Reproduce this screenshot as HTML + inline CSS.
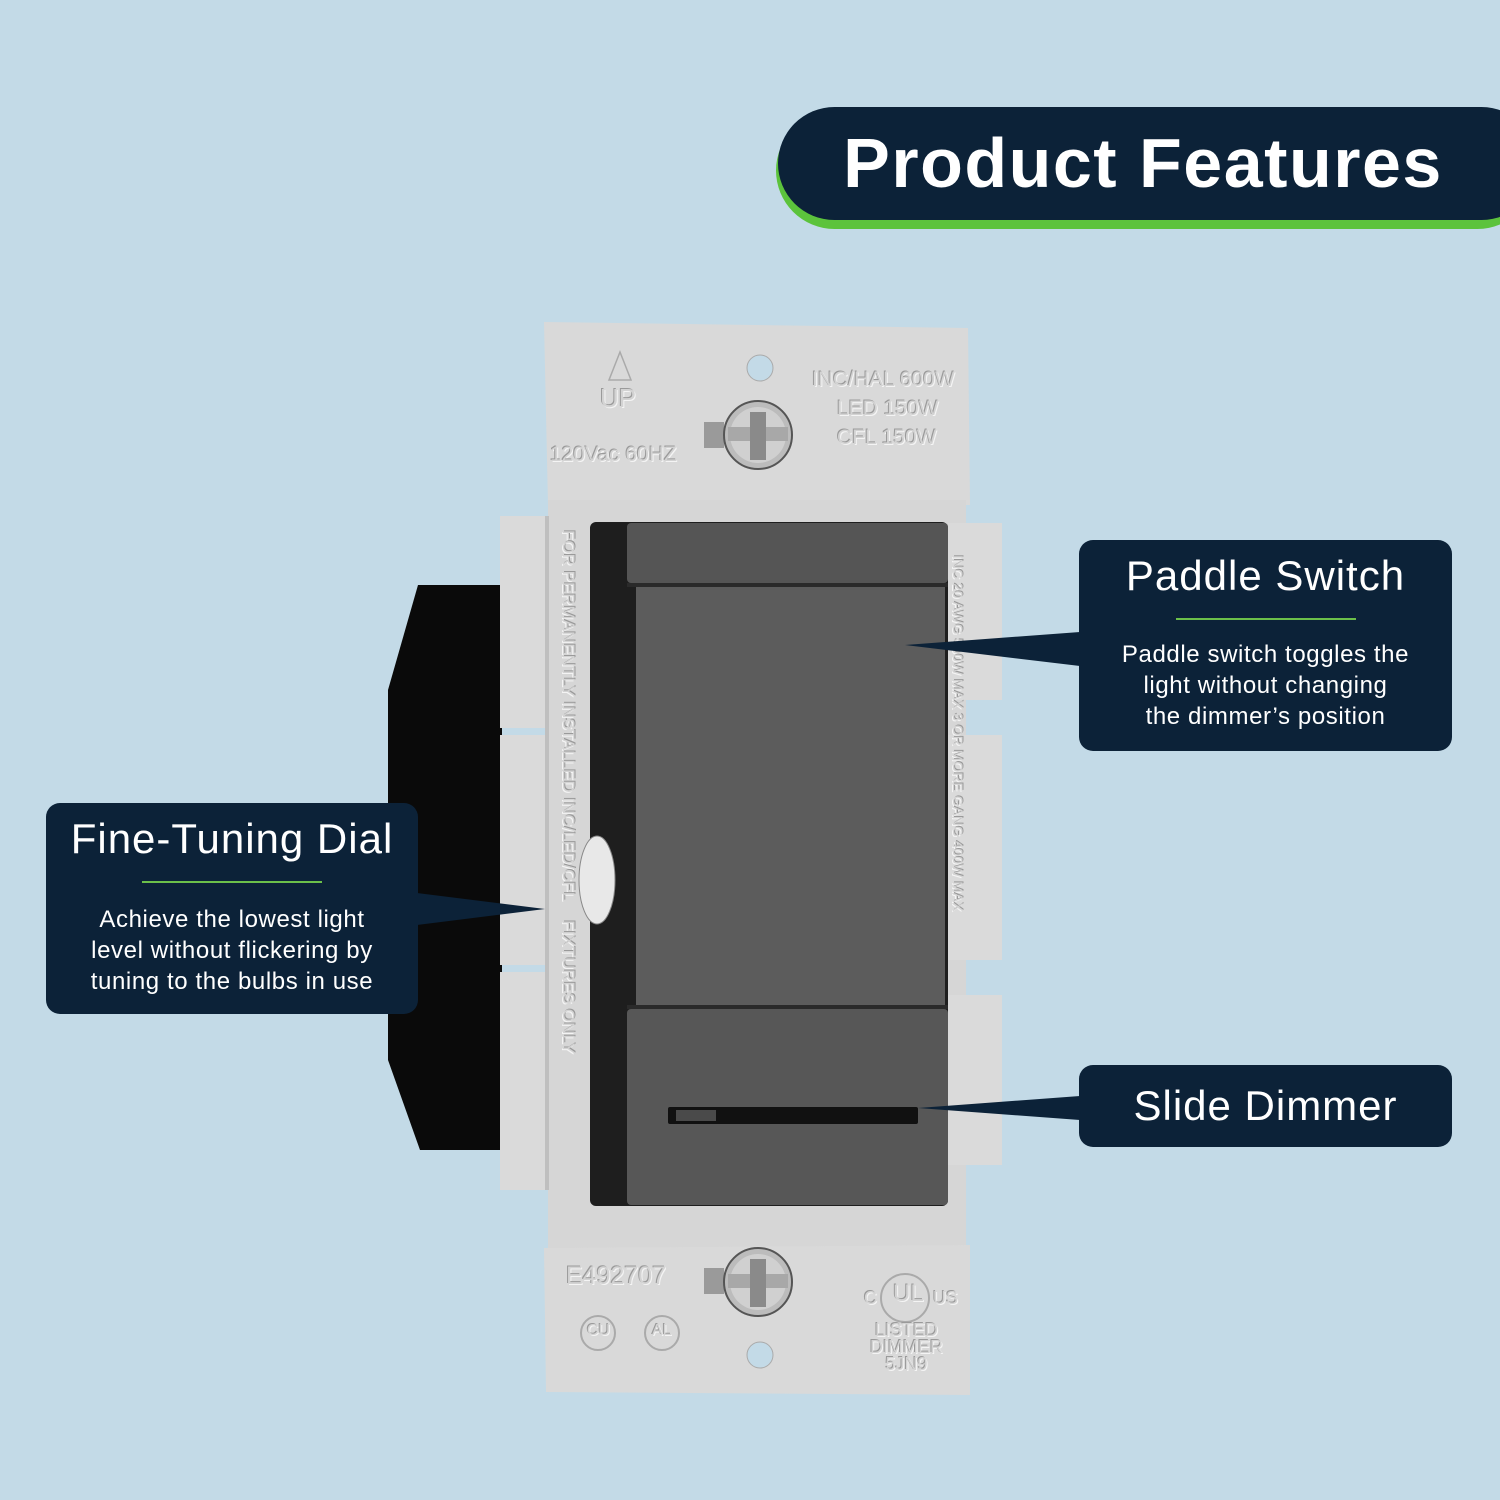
<!DOCTYPE html>
<html><head><meta charset="utf-8"><style>
*{margin:0;padding:0;box-sizing:border-box}
body{width:1500px;height:1500px;background:#c3dae7;position:relative;overflow:hidden;font-family:"Liberation Sans",sans-serif}
.abs{position:absolute}
.emb{position:absolute;color:#d3d3d3;text-shadow:-1px -1px 0 #9a9a9a,1px 1px 0 #f4f4f4;font-family:"Liberation Sans",sans-serif;white-space:nowrap}
.box{position:absolute;background:#0c2238;border-radius:14px;color:#fff;text-align:center}
.box h2{font-weight:normal;font-size:42px;letter-spacing:1px}
.box .ln{height:2px;background:#6cc04a;margin:0 auto}
.box p{font-size:24px;line-height:31px;letter-spacing:0.6px}
</style></head><body>
<div class="abs" style="left:776px;top:112px;width:760px;height:117px;background:#5cc33c;border-radius:60px"></div>
<div class="abs" style="left:778px;top:107px;width:760px;height:113px;background:#0c2238;border-radius:58px"></div>
<div class="abs" style="left:776px;top:122px;width:724px;text-align:center;color:#fff;font-weight:bold;font-size:70px;letter-spacing:1.5px;line-height:82px;padding-left:10px">Product Features</div>

<svg class="abs" style="left:0;top:0" width="1500" height="1500">
<polygon points="418,585 502,585 502,1150 420,1150 388,1060 388,690" fill="#0a0a0a"/>
<polygon points="544,322 968,328 970,505 548,505" fill="#d9d9d9"/>
<rect x="548" y="500" width="418" height="750" fill="#d6d6d6"/>
<polygon points="544,1248 970,1245 970,1395 546,1392" fill="#d9d9d9"/>
<rect x="500" y="516" width="48" height="212" fill="#dadada"/>
<rect x="500" y="735" width="48" height="230" fill="#dadada"/>
<rect x="500" y="972" width="48" height="218" fill="#dadada"/>
<rect x="545" y="516" width="4" height="674" fill="#bfbfbf"/>
<rect x="948" y="523" width="54" height="177" fill="#dadada"/>
<rect x="948" y="735" width="54" height="225" fill="#dadada"/>
<rect x="948" y="995" width="54" height="170" fill="#dadada"/>
<circle cx="760" cy="368" r="13" fill="#c3dae7" stroke="#aaa"/>
<circle cx="760" cy="1355" r="13" fill="#c3dae7" stroke="#aaa"/>
<g>
<rect x="704" y="422" width="20" height="26" fill="#9a9a9a"/>
<circle cx="758" cy="435" r="34" fill="#bcbcbc" stroke="#555" stroke-width="2"/>
<circle cx="758" cy="435" r="28" fill="#d0d0d0"/>
<rect x="728" y="427" width="60" height="14" fill="#a8a8a8"/>
<rect x="750" y="412" width="16" height="48" fill="#8a8a8a"/>
</g>
<g>
<rect x="704" y="1268" width="20" height="26" fill="#9a9a9a"/>
<circle cx="758" cy="1282" r="34" fill="#bcbcbc" stroke="#555" stroke-width="2"/>
<circle cx="758" cy="1282" r="28" fill="#d0d0d0"/>
<rect x="728" y="1274" width="60" height="14" fill="#a8a8a8"/>
<rect x="750" y="1259" width="16" height="48" fill="#8a8a8a"/>
</g>
</svg>
<div class="emb" style="left:950px;top:555px;font-size:14px;writing-mode:vertical-rl">INC 20 AWG 500W MAX 3 OR MORE GANG 400W MAX</div>
<svg class="abs" style="left:0;top:0" width="1500" height="1500">
<rect x="590" y="522" width="358" height="684" rx="6" fill="#1e1e1e"/>
<rect x="627" y="523" width="321" height="60" rx="4" fill="#555"/>
<rect x="627" y="583" width="321" height="4" fill="#2a2a2a"/>
<rect x="636" y="587" width="309" height="418" fill="#5c5c5c"/>
<rect x="627" y="1005" width="321" height="4" fill="#2a2a2a"/>
<rect x="627" y="1009" width="321" height="196" rx="4" fill="#575757"/>
<rect x="668" y="1107" width="250" height="17" rx="2" fill="#111"/>
<rect x="676" y="1110" width="40" height="11" fill="#4a4a4a"/>
<ellipse cx="597" cy="880" rx="18" ry="44" fill="#e8e8e8" stroke="#888"/>
<polygon points="1080,632 1080,666 905,645" fill="#0c2238"/>
<polygon points="417,893 417,925 545,909" fill="#0c2238"/>
<polygon points="1080,1096 1080,1120 918,1108" fill="#0c2238"/>
<polygon points="620,352 609,380 631,380" fill="none" stroke="#aaa" stroke-width="1.5"/>
<circle cx="598" cy="1333" r="17" fill="none" stroke="#aaa" stroke-width="2"/>
<circle cx="662" cy="1333" r="17" fill="none" stroke="#aaa" stroke-width="2"/>
<circle cx="905" cy="1298" r="24" fill="none" stroke="#aaa" stroke-width="2"/>
</svg>

<div class="emb" style="left:600px;top:383px;font-size:26px">UP</div>
<div class="emb" style="left:550px;top:443px;font-size:21px">120Vac 60HZ</div>
<div class="emb" style="left:812px;top:368px;font-size:21px">INC/HAL 600W</div>
<div class="emb" style="left:837px;top:397px;font-size:21px">LED 150W</div>
<div class="emb" style="left:837px;top:426px;font-size:21px">CFL 150W</div>
<div class="emb" style="left:566px;top:1262px;font-size:25px">E492707</div>
<div class="emb" style="left:587px;top:1322px;font-size:16px">CU</div>
<div class="emb" style="left:652px;top:1322px;font-size:16px">AL</div>
<div class="emb" style="left:864px;top:1288px;font-size:18px">C</div>
<div class="emb" style="left:893px;top:1280px;font-size:24px">UL</div>
<div class="emb" style="left:933px;top:1288px;font-size:18px">US</div>
<div class="emb" style="left:870px;top:1322px;font-size:18px;text-align:center;line-height:17px">LISTED<br>DIMMER<br>5JN9</div>
<div class="emb" style="left:558px;top:530px;font-size:17px;writing-mode:vertical-rl">FOR PERMANENTLY INSTALLED INC/LED/CFL&nbsp;&nbsp;&nbsp;&nbsp;FIXTURES ONLY</div>

<div class="box" style="left:1079px;top:540px;width:373px;height:211px">
<h2 style="margin-top:12px;line-height:48px">Paddle Switch</h2>
<div class="ln" style="width:180px;margin-top:18px"></div>
<p style="margin-top:19px">Paddle switch toggles the<br>light without changing<br>the dimmer’s position</p>
</div>
<div class="box" style="left:46px;top:803px;width:372px;height:211px">
<h2 style="margin-top:12px;line-height:48px">Fine-Tuning Dial</h2>
<div class="ln" style="width:180px;margin-top:18px"></div>
<p style="margin-top:21px">Achieve the lowest light<br>level without flickering by<br>tuning to the bulbs in use</p>
</div>
<div class="box" style="left:1079px;top:1065px;width:373px;height:82px">
<h2 style="line-height:82px">Slide Dimmer</h2>
</div>
</body></html>
